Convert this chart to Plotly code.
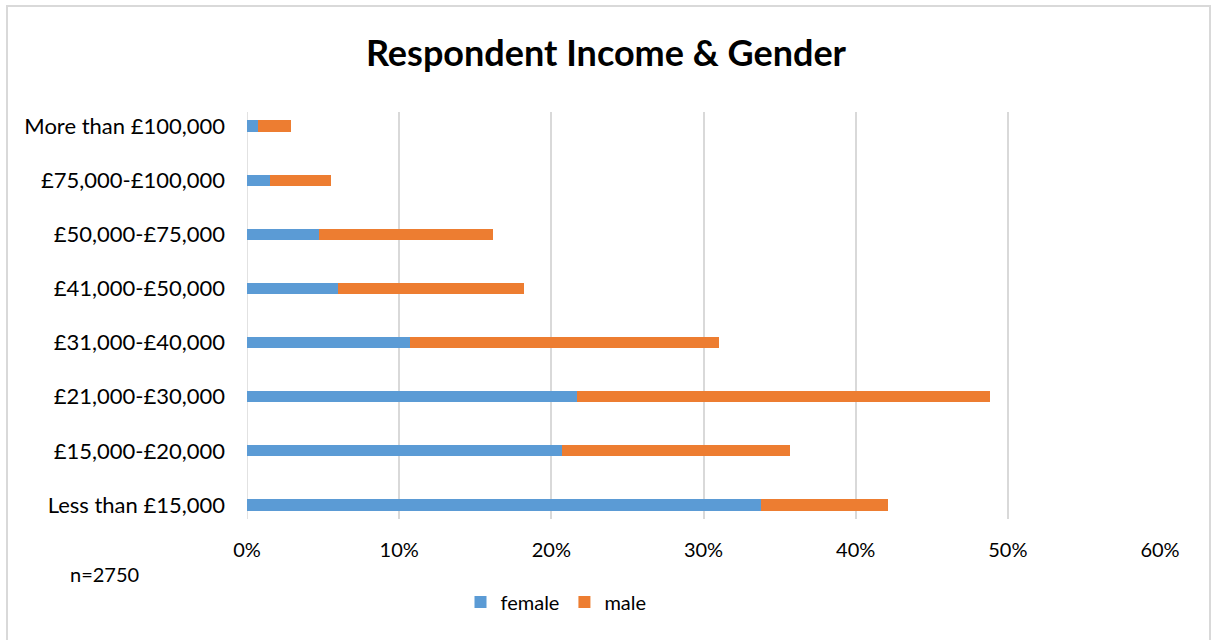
import plotly.graph_objects as go

categories = ["Less than £15,000", "£15,000-£20,000", "£21,000-£30,000", "£31,000-£40,000",
              "£41,000-£50,000", "£50,000-£75,000", "£75,000-£100,000", "More than £100,000"]
female = [33.8, 20.7, 21.7, 10.7, 6.0, 4.75, 1.5, 0.72]
male = [8.3, 15.0, 27.1, 20.3, 12.2, 11.4, 4.05, 2.2]
x_ticks = [0, 10, 20, 30, 40, 50, 60]
x_tick_labels = ["0%", "10%", "20%", "30%", "40%", "50%", "60%"]

FONT = "Lato"
W, H = 1212, 640
L, R, T, B = 247, 52, 112, 121
pw, ph = W - L - R, H - T - B

def px_x(p):
    return (p - L) / pw

def px_y(p):
    return (H - B - p) / ph

fig = go.Figure()
fig.add_trace(go.Bar(y=categories, x=female, name="female", orientation="h",
                     marker=dict(color="#5B9BD5", line=dict(width=0)), width=0.21))
fig.add_trace(go.Bar(y=categories, x=male, name="male", orientation="h",
                     marker=dict(color="#ED7D31", line=dict(width=0)), width=0.21))

fig.update_layout(
    barmode="stack",
    width=W, height=H,
    margin=dict(l=L, r=R, t=T, b=B, autoexpand=False),
    paper_bgcolor="white", plot_bgcolor="white",
    font=dict(family=FONT, size=20, color="#000000"),
    title=dict(text="<b>Respondent Income & Gender</b>", x=0.5, xanchor="center",
               y=1 - 53 / H, yanchor="middle", font=dict(family=FONT, size=36, color="#000000")),
    showlegend=True,
    legend=dict(orientation="h", x=px_x(556), xanchor="center", y=px_y(602), yanchor="middle",
                font=dict(family=FONT, size=20, color="#000000"), traceorder="normal",
                itemwidth=30, itemsizing="constant", tracegroupgap=0),
    xaxis=dict(range=[0, 60], tickvals=x_ticks, ticktext=x_tick_labels,
               showgrid=True, gridcolor="#D9D9D9", gridwidth=1.5,
               zeroline=False, showline=False, ticks="", ticklabelstandoff=17,
               tickfont=dict(family=FONT, size=20, color="#000000"), fixedrange=True),
    yaxis=dict(type="category", categoryorder="array", categoryarray=categories,
               range=[-0.26, 7.26], showgrid=False, zeroline=False,
               showline=False, ticks="", ticklabelstandoff=21,
               tickfont=dict(family=FONT, size=22, color="#000000"), fixedrange=True),
)

# left axis line (at 0%)
fig.add_shape(type="line", xref="x", yref="paper", x0=0, x1=0, y0=0, y1=1,
              line=dict(color="#D9D9D9", width=1.5), layer="below")

# chart area border
fig.add_shape(type="rect", xref="paper", yref="paper",
              x0=px_x(7), x1=px_x(1210), y0=px_y(645), y1=px_y(6),
              line=dict(color="#D9D9D9", width=2), fillcolor="rgba(0,0,0,0)")

fig.add_annotation(text="n=2750", xref="paper", yref="paper", x=px_x(68), y=px_y(574),
                   xanchor="left", yanchor="middle", showarrow=False,
                   font=dict(family=FONT, size=20, color="#000000"))

fig.write_html("out.html", config={"displayModeBar": False},
               post_script="document.body.style.margin='0';")
